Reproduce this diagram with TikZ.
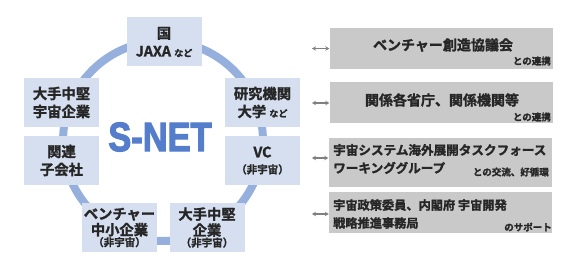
\documentclass[tikz,border=0pt]{standalone}
\usepackage{fontspec}
\usepackage{tikz}
\usetikzlibrary{
	arrows.meta,
	calc,
	positioning
}
\setmainfont{Noto Sans CJK JP}[BoldFont={Noto Sans CJK JP Bold}, BoldFeatures={FakeBold=1.6}]
\newfontfamily\netfont{Liberation Sans}[BoldFont={Liberation Sans Bold}, BoldFeatures={FakeBold=3}]
\definecolor{RingBlue}{RGB}{150,176,222}
\definecolor{BoxBlue}{RGB}{214,223,240}
\definecolor{BoxGray}{RGB}{201,201,201}
\definecolor{InkGray}{RGB}{38,38,38}
\definecolor{NetBlue}{RGB}{84,125,204}
\newcommand{\note}[1]{{\fontsize{9}{11}\selectfont #1}}

\begin{document}
\begin{tikzpicture}[x=1pt, y=-1pt,
		member/.style={fill=BoxBlue, minimum width=75pt, minimum height=49pt, inner sep=0pt,
			align=center, text=InkGray, font=\bfseries\fontsize{14.3}{18}\selectfont},
		partner/.style={fill=BoxGray, minimum width=223pt, minimum height=41pt, inner sep=0pt},
		title/.style={inner sep=0pt, align=left, text=InkGray, font=\bfseries\fontsize{12.6}{18}\selectfont},
		tail/.style={inner sep=0pt, anchor=east, text=InkGray, font=\bfseries\fontsize{9.5}{11}\selectfont},
		link/.style={gray, line width=1.2pt, {Stealth[length=4pt,width=4.5pt]}-{Stealth[length=4pt,width=4.5pt]}}
	]
		\useasboundingbox (0,0) rectangle (587,280);
		
		% S-NET の輪
		\draw[RingBlue, line width=8pt] (163,141) circle (100pt);
		\node[inner sep=0pt, text=NetBlue, font=\netfont\bfseries\fontsize{41}{41}\selectfont] (snet) at (160,137) {\scalebox{0.84}[1]{S-NET}};
		
		% 構成メンバー
		\node[member] (govt) at (164,42) {国\\JAXA \note{など}};
		\node[member] (bigspace) at (61.5,102.5) {大手中堅\\宇宙企業};
		\node[member] (lab) at (262.5,102.5) {研究機関\\大学 \note{など}};
		\node[member] (affil) at (61.5,160.5) {関連\\子会社};
		\node[member] (vc) at (262.5,160.5) {VC\\[-2pt]{\fontsize{10.5}{12}\selectfont （非宇宙）}};
		\node[member] (venture) at (119.5,227.5) {ベンチャー\\[-2pt]中小企業\\[-7pt]{\fontsize{10.5}{12}\selectfont （非宇宙）}};
		\node[member] (bigother) at (207,227.5) {大手中堅\\[-2pt]企業\\[-7pt]{\fontsize{10.5}{12}\selectfont （非宇宙）}};
		
		% 外部との連携
		\node[partner] (council) at (441,48.5) {};
		\node[partner] (ministry) at (441,103) {};
		\node[partner, minimum height=49pt] (taskforce) at (440,162.5) {};
		\node[partner] (cabinet) at (440.5,213) {};
		
		\node[title, font=\bfseries\fontsize{14}{18}\selectfont] (councilname) at (443,45) {ベンチャー創造協議会};
		\node[tail] (counciltail) at (551,61) {との連携};
		\node[title, font=\bfseries\fontsize{14}{18}\selectfont] (ministryname) at (442,100) {関係各省庁、関係機関等};
		\node[tail] (ministrytail) at (551,117) {との連携};
		\node[title, anchor=west] (tfname) at (333,159) {宇宙システム海外展開タスクフォース\\ワーキンググループ};
		\node[tail] (tftail) at (549,172) {との交流、好循環};
		\node[title, anchor=west, font=\bfseries\fontsize{12.2}{18}\selectfont] (cabname) at (333,214) {宇宙政策委員、内閣府 宇宙開発\\戦略推進事務局};
		\node[tail] (cabtail) at (552,227) {のサポート};
		
		% 矢印
		\coordinate (c1) at (312,48.5);
		\coordinate (c2) at (312,103);
		\coordinate (c3) at (312,158);
		\coordinate (c4) at (312,214);
		\draw[link] (c1) -- (council.west);
		\draw[link] (c2) -- (ministry.west);
		\draw[link] (c3) -- (c3 -| taskforce.west);
		\draw[link] (c4) -- (c4 -| cabinet.west);
	\end{tikzpicture}
\end{document}
